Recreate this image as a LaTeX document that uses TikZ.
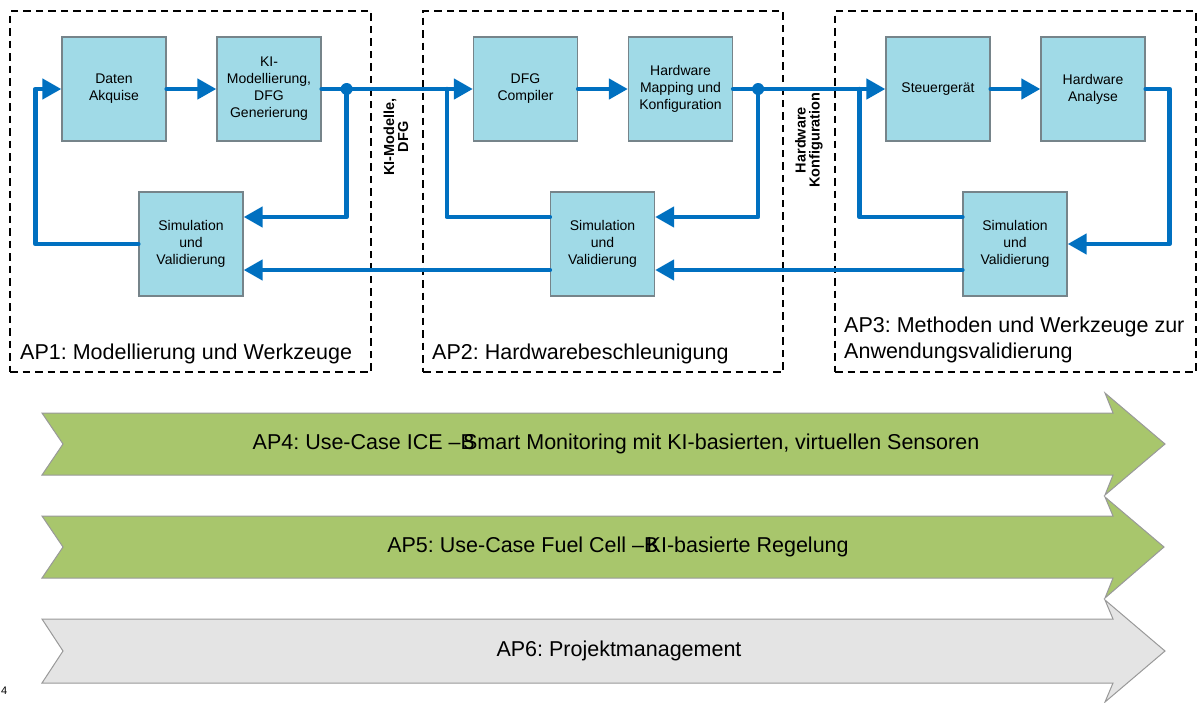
\documentclass[tikz,border=0pt]{standalone}
\usepackage{fontspec}
\setmainfont{Liberation Sans}
\usepackage{xcolor}
\usepackage{tikz}
\usetikzlibrary{arrows.meta,positioning}
\frenchspacing
\definecolor{flowblue}{RGB}{0,112,192}
\definecolor{boxfill}{RGB}{160,218,231}
\definecolor{boxline}{RGB}{118,132,138}
\definecolor{bandgreen}{RGB}{168,198,108}
\definecolor{bandgrey}{RGB}{228,228,228}
\tikzstyle{block} = [rectangle, minimum width=104pt, minimum height=104pt, align=center, draw=boxline, line width=1.3pt, fill=boxfill, font=\fontsize{14}{17}\selectfont]
\tikzstyle{frame} = [rectangle, draw=black, line width=1.3pt, dash pattern=on 7.5pt off 5pt]
\tikzstyle{line} = [line width=4.5pt, draw=flowblue, line cap=round, line join=round]
\tikzstyle{arrow} = [line, -{Triangle[length=19pt,width=20pt]}]
\tikzstyle{junction} = [circle, fill=flowblue, inner sep=0pt, minimum size=12pt]
\tikzstyle{sidelabel} = [rotate=90, align=center, inner sep=0pt, font=\bfseries\fontsize{14.5}{14}\selectfont]
\tikzstyle{aptitle} = [inner sep=0pt, align=left, font=\fontsize{21.5}{26}\selectfont]
\tikzstyle{band} = [draw=black!40, line width=1pt]
\tikzstyle{bandtext} = [font=\fontsize{21.5}{24}\selectfont]

\begin{document}
\begin{tikzpicture}[x=1pt, y=-1pt, node distance=155pt]
    \useasboundingbox (0,0) rectangle (1198,702);
    % work package frames
    \node (ap1box) [frame, minimum width=361pt, minimum height=361pt] at (190.5,191.5) {};
    \node (ap2box) [frame, minimum width=360pt, minimum height=361pt] at (603,191.5) {};
    \node (ap3box) [frame, minimum width=361pt, minimum height=361pt] at (1015.5,191.5) {};
    \node (t1) [aptitle, anchor=base west] at (20,359) {AP1: Modellierung und Werkzeuge};
    \node (t2) [aptitle, anchor=base west] at (432,359) {AP2: Hardwarebeschleunigung};
    \node (t3) [aptitle, anchor=south west] at (844,363) {AP3: Methoden und Werkzeuge zur\\Anwendungsvalidierung};

    % blocks
    \node (daten) [block] at (114,89) {Daten\\Akquise};
    \node (ki) [block, right of=daten] {KI-\\Modellierung,\\DFG\\Generierung};
    \node (sim1) [block, below of=daten, xshift=77pt] {Simulation\\und\\Validierung};
    \node (dfg) [block, right of=ki, xshift=101.5pt] {DFG\\Compiler};
    \node (hwmap) [block, right of=dfg] {Hardware\\Mapping und\\Konfiguration};
    \node (sim2) [block, below of=dfg, xshift=77pt] {Simulation\\und\\Validierung};
    \node (steuer) [block, right of=hwmap, xshift=102.5pt] {Steuergerät};
    \node (hwa) [block, right of=steuer] {Hardware\\Analyse};
    \node (sim3) [block, below of=steuer, xshift=77pt] {Simulation\\und\\Validierung};

    \node (kimod) [sidelabel] at (396,137) {KI-Modelle,\\DFG};
    \node (hwconf) [sidelabel] at (809,140) {Hardware\\Konfiguration};

    \node (dot1) [junction] at ([xshift=25pt]ki.east) {};
    \node (dot2) [junction] at ([xshift=25pt]hwmap.east) {};

    % flow
    \draw [arrow] (daten) -- (ki);
    \draw [arrow] (ki.east) -- (dfg.west);
    \draw [arrow] (dot1.center) |- ([yshift=27pt]sim1.east);
    \draw [arrow] (sim1.west) -| ([xshift=-26pt]daten.west) -- (daten.west);
    \draw [arrow] ([yshift=-26pt]sim2.west) -- ([yshift=-26pt]sim1.east);
    \draw [arrow] (dfg) -- (hwmap);
    \draw [arrow] (hwmap.east) -- (steuer.west);
    \draw [arrow] (dot2.center) |- ([yshift=27pt]sim2.east);
    \draw [line] ([yshift=27pt]sim2.west) -| ([xshift=-26pt]dfg.west);
    \draw [arrow] ([yshift=-26pt]sim3.west) -- ([yshift=-26pt]sim2.east);
    \draw [arrow] (steuer) -- (hwa);
    \draw [arrow] (hwa.east) -- ++(24,0) |- (sim3.east);
    \draw [line] ([yshift=27pt]sim3.west) -| ([xshift=-26pt]steuer.west);

    % cross-cutting work packages
    \draw [band, fill=bandgreen] (42,413) -- (1113,413) -- (1105,393) -- (1165,444) -- (1105,495) -- (1113,475) -- (42,475) -- (63,444) -- cycle;
    \draw [band, fill=bandgreen] (42,516) -- (1113,516) -- (1105,497) -- (1164,547) -- (1105,598) -- (1113,578) -- (42,578) -- (63,547) -- cycle;
    \draw [band, fill=bandgrey] (42,619) -- (1113,619) -- (1105,600) -- (1165,651) -- (1105,702) -- (1113,683) -- (42,683) -- (63,651) -- cycle;
    \node (ap4) [bandtext] at (616,444) {AP4: Use-Case ICE –\rlap{B}\kern2.5pt Smart Monitoring mit KI-basierten, virtuellen Sensoren};
    \node (ap5) [bandtext] at (618,547) {AP5: Use-Case Fuel Cell –\rlap{B}\kern2.5pt KI-basierte Regelung};
    \node (ap6) [bandtext] at (619,651) {AP6: Projektmanagement};

    \node (pgmark) [inner sep=0pt, anchor=west, font=\fontsize{11}{11}\selectfont] at (1,691) {4};
\end{tikzpicture}
\end{document}
